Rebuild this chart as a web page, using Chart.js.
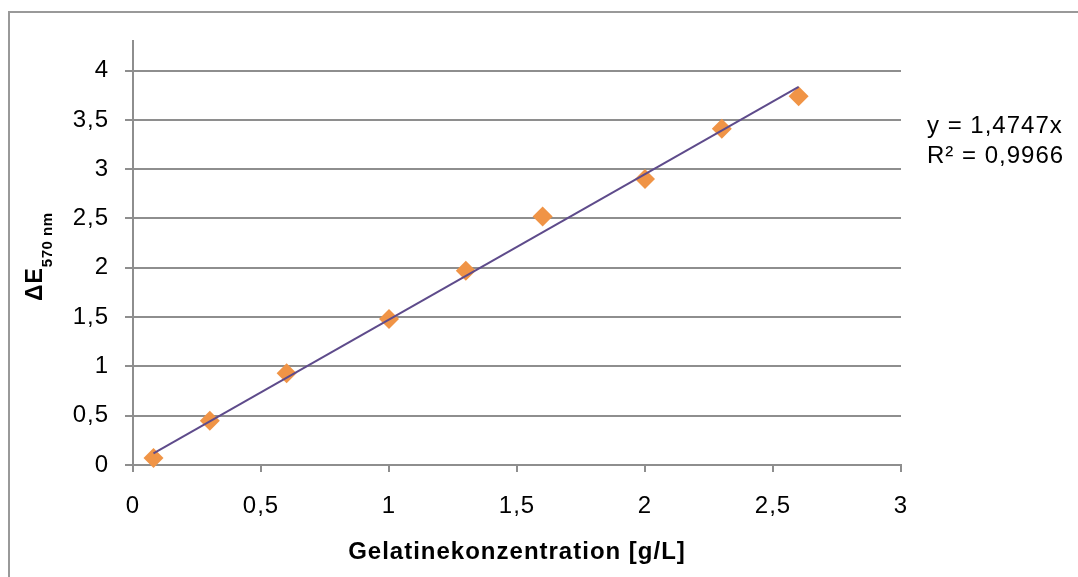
<!DOCTYPE html>
<html>
<head>
<meta charset="utf-8">
<script src="https://cdn.jsdelivr.net/npm/chart.js@4/dist/chart.umd.min.js"></script>
<style>
  html, body { margin: 0; padding: 0; background: #fff; }
</style>
</head>
<body>
<canvas id="gelatinChart" width="1078" height="577"></canvas>
<script>
// Gelatine calibration curve

const concentration = [0.08, 0.3, 0.6, 1.0, 1.3, 1.6, 2.0, 2.3, 2.6];
const extinction = [0.07, 0.45, 0.93, 1.48, 1.97, 2.52, 2.9, 3.41, 3.74];
const slope = 1.4747;
const rSquared = '0,9966';
const yTicks = [0, 0.5, 1, 1.5, 2, 2.5, 3, 3.5, 4];

const points = concentration.map((x, i) => ({ x: x, y: extinction[i] }));
const xFirst = concentration[0];
const xLast = concentration[concentration.length - 1];
const trend = [
  { x: xFirst, y: slope * xFirst },
  { x: xLast, y: slope * xLast }
];

const gridColor = '#8e8e8e';
const fontFamily = "'Liberation Sans', Arial, sans-serif";
Chart.defaults.font.family = fontFamily;
Chart.defaults.color = '#000';

const comma = v => String(v).replace('.', ',');

const spacing = {
  id: 'spacing',
  beforeLayout(chart) { chart.ctx.letterSpacing = '1px'; },
  beforeDraw(chart) { chart.ctx.letterSpacing = '1px'; }
};

const decorations = {
  id: 'decorations',
  afterDraw(chart) {
    const ctx = chart.ctx;
    ctx.save();
    // outer frame
    ctx.strokeStyle = '#999';
    ctx.lineWidth = 2;
    ctx.strokeRect(9, 12, 2000, 2000);

    // trendline label
    ctx.fillStyle = '#000';
    ctx.letterSpacing = '1px';
    ctx.font = '24px ' + fontFamily;
    ctx.textAlign = 'left';
    ctx.textBaseline = 'alphabetic';
    ctx.fillText('y = ' + comma(slope) + 'x', 927, 133);
    ctx.fillText('R² = ' + rSquared, 927, 163);

    // y axis title with subscript
    ctx.translate(42, 301);
    ctx.rotate(-Math.PI / 2);
    ctx.font = 'bold 23px ' + fontFamily;
    ctx.fillText('ΔE', 0, 0);
    const w = ctx.measureText('ΔE').width;
    ctx.letterSpacing = '0.5px';
    ctx.font = 'bold 15px ' + fontFamily;
    ctx.fillText('570 nm', w, 10);
    ctx.restore();
  }
};

new Chart(document.getElementById('gelatinChart'), {
  type: 'scatter',
  data: {
    datasets: [
      {
        type: 'line',
        data: trend,
        borderColor: '#5E4B8B',
        borderWidth: 2,
        pointRadius: 0,
        order: 0
      },
      {
        data: points,
        pointStyle: 'rectRot',
        pointRadius: 10,
        backgroundColor: '#F09446',
        borderWidth: 0,
        clip: false,
        order: 1
      }
    ]
  },
  options: {
    responsive: false,
    animation: false,
    layout: { padding: { top: 41, right: 177, left: 0, bottom: 0 } },
    plugins: {
      legend: { display: false },
      tooltip: { enabled: false }
    },
    scales: {
      x: {
        type: 'linear',
        min: 0,
        max: 3,
        afterFit: s => { s.height = 112; },
        ticks: {
          stepSize: 0.5,
          padding: 20,
          font: { size: 24 },
          callback: comma
        },
        grid: {
          drawOnChartArea: false,
          tickLength: 7,
          color: gridColor,
          lineWidth: 2
        },
        border: { color: gridColor, width: 2 },
        title: {
          display: true,
          text: 'Gelatinekonzentration [g/L]',
          font: { size: 24, weight: 'bold' },
          padding: { top: 0, bottom: 10 }
        }
      },
      y: {
        min: 0,
        max: 4.3,
        afterFit: s => { s.width = 133; },
        afterBuildTicks: s => { s.ticks = yTicks.map(v => ({ value: v })); },
        ticks: {
          padding: 16,
          font: { size: 24 },
          callback: comma
        },
        grid: {
          tickLength: 8,
          color: gridColor,
          lineWidth: 2
        },
        border: { color: gridColor, width: 2 }
      }
    }
  },
  plugins: [spacing, decorations]
});
</script>
</body>
</html>
